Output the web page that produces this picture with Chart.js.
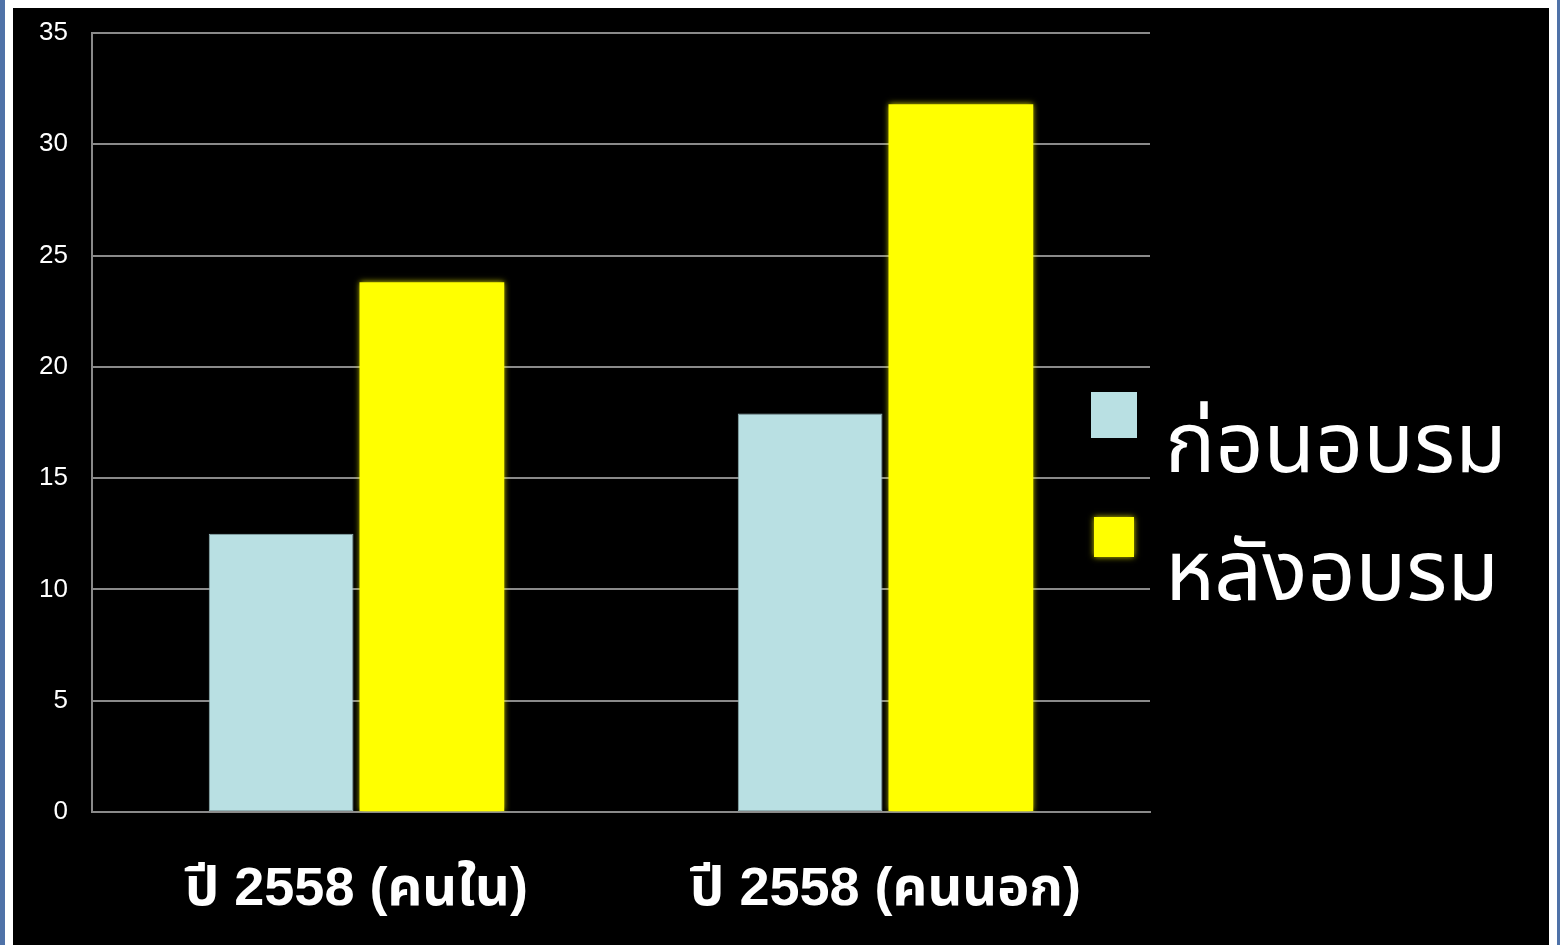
<!DOCTYPE html>
<html>
<head>
<meta charset="utf-8">
<script src="https://cdn.jsdelivr.net/npm/chart.js@4/dist/chart.umd.min.js"></script>
<style>
  html, body { margin: 0; padding: 0; background: #fff; width: 1560px; height: 945px; overflow: hidden; }
  #edgeLeft { position: absolute; left: 0; top: 0; width: 5px; height: 945px; background: #4f72a8; }
  #edgeRight { position: absolute; left: 1557px; top: 0; width: 3px; height: 945px; background: #4f72a8; }
  #wrap { position: absolute; left: 13px; top: 8px; width: 1536px; height: 937px; background: #000; }
  #barChart { display: block; }
</style>
</head>
<body>
<div id="edgeLeft"></div>
<div id="edgeRight"></div>
<div id="wrap"><canvas id="barChart" width="1536" height="937"></canvas></div>
<script>
// categories and series
var categories = ['ปี 2558 (คนใน)', 'ปี 2558 (คนนอก)'];
var seriesNames = ['ก่อนอบรม', 'หลังอบรม'];
var beforeTraining = [12.5, 17.9];
var afterTraining = [23.8, 31.8];
var yTicks = [0, 5, 10, 15, 20, 25, 30, 35];

// legend drawn at the right side of the plot
var sideLegend = {
    id: 'sideLegend',
    afterDraw: function (chart) {
        var ctx = chart.ctx;
        var area = chart.chartArea;
        ctx.save();
        ctx.font = '84px "Noto Sans Thai", "Noto Sans", sans-serif';
        ctx.textBaseline = 'alphabetic';
        ctx.textAlign = 'left';
        chart.data.datasets.forEach(function (ds, i) {
            var boxSize = i === 0 ? 46 : 40;
            var cx = area.right - 36;
            var cy = 407 + i * 122;
            ctx.save();
            if (ds.glow) {
                ctx.shadowColor = ds.glow;
                ctx.shadowBlur = 6;
            }
            ctx.fillStyle = ds.backgroundColor;
            ctx.fillRect(cx - boxSize / 2, cy - boxSize / 2, boxSize, boxSize);
            ctx.restore();
            ctx.fillStyle = '#ffffff';
            ctx.fillText(ds.label, area.right + 15, 464 + i * 128);
        });
        ctx.restore();
    }
};

// soft glow on the yellow bars
var barGlow = {
    id: 'barGlow',
    beforeDatasetDraw: function (chart, args) {
        var ds = chart.data.datasets[args.index];
        if (ds.glow) {
            chart.ctx.save();
            chart.ctx.shadowColor = ds.glow;
            chart.ctx.shadowBlur = 6;
        }
    },
    afterDatasetDraw: function (chart, args) {
        if (chart.data.datasets[args.index].glow) {
            chart.ctx.restore();
        }
    }
};

document.addEventListener('DOMContentLoaded', function () {
    var ctx = document.getElementById('barChart').getContext('2d');
    var barChart = new Chart(ctx, {
        type: 'bar',
        data: {
            labels: categories,
            datasets: [{
                label: seriesNames[0],
                data: beforeTraining,
                backgroundColor: '#b9e0e3',
                borderColor: '#8fb0b3',
                borderWidth: 1,
                borderSkipped: false
            }, {
                label: seriesNames[1],
                data: afterTraining,
                backgroundColor: '#ffff00',
                glow: 'rgba(255,255,0,0.8)'
            }]
        },
        options: {
            responsive: false,
            animation: false,
            categoryPercentage: 0.57,
            barPercentage: 0.96,
            layout: {
                padding: { left: 0, top: 25, right: 399, bottom: 0 }
            },
            plugins: {
                legend: { display: false },
                tooltip: { enabled: false }
            },
            scales: {
                x: {
                    afterFit: function (scale) { scale.height = 133; },
                    grid: { display: false, drawTicks: false },
                    border: { display: true, color: '#8a8a8a', width: 2 },
                    ticks: {
                        color: '#ffffff',
                        padding: 46,
                        font: { family: '"Liberation Sans", "Noto Sans Thai", sans-serif', size: 54, weight: 'bold' }
                    }
                },
                y: {
                    min: 0,
                    max: 35,
                    afterFit: function (scale) {
                        scale.width = 79;
                        scale.paddingTop = 0;
                        scale.paddingBottom = 0;
                    },
                    afterBuildTicks: function (axis) {
                        axis.ticks = yTicks.map(function (v) { return { value: v }; });
                    },
                    grid: { color: '#8a8a8a', lineWidth: 2, drawTicks: false },
                    border: { display: true, color: '#8a8a8a', width: 2 },
                    ticks: {
                        color: '#ffffff',
                        padding: 24,
                        font: { family: '"Liberation Sans", Arial, sans-serif', size: 26 }
                    }
                }
            }
        },
        plugins: [barGlow, sideLegend]
    });
});
</script>
</body>
</html>
